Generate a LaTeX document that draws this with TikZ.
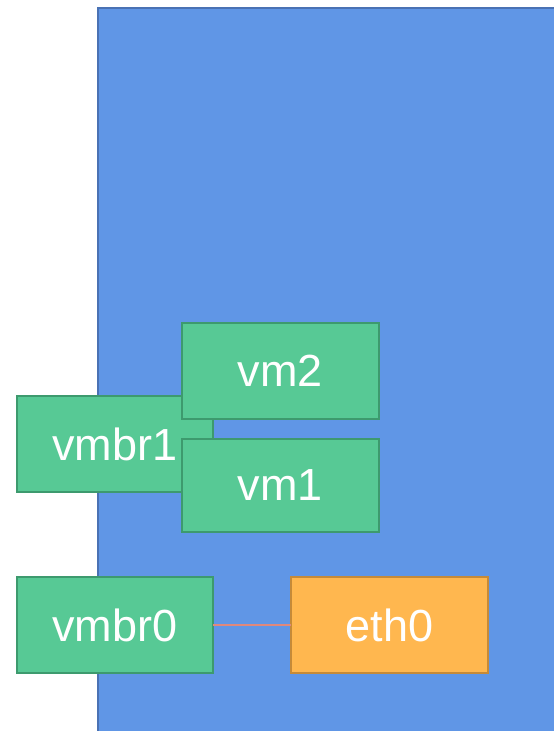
\documentclass[tikz,border=0pt]{standalone}
\usepackage{fontspec}
\setmainfont{Liberation Sans}
\definecolor{bgblue}{HTML}{6096E6}
\definecolor{bgborder}{HTML}{4A72B4}
\definecolor{vmgreen}{HTML}{57C995}
\definecolor{vmborder}{HTML}{3D9A6E}
\definecolor{ethorange}{HTML}{FFB74F}
\definecolor{ethborder}{HTML}{C68A38}
\definecolor{linkcol}{HTML}{E0887C}
\tikzset{
  box/.style={draw, line width=2pt, inner sep=0pt, outer sep=0pt,
    minimum width=197pt, minimum height=96pt, text=white,
    font=\fontsize{45}{52}\selectfont},
  greenbox/.style={box, fill=vmgreen, draw=vmborder},
  orangebox/.style={box, fill=ethorange, draw=ethborder},
}
\begin{document}
\begin{tikzpicture}[x=1pt,y=-1pt]
\useasboundingbox (0,0) rectangle (554,731);
\begin{scope}
\clip (0,0) rectangle (554,731);
\draw[fill=bgblue, draw=bgborder, line width=2pt] (98,8) rectangle (620,800);
\end{scope}
\node[greenbox, minimum width=196pt] (vmbr1) at (115,444) {vmbr1};
\node[greenbox] (vm2) at (280.5,371) {vm2};
\node[greenbox, minimum height=93pt] (vm1) at (280.5,485.5) {vm1};
\node[greenbox, minimum width=196pt] (vmbr0) at (115,625) {vmbr0};
\node[orangebox] (eth0) at (389.5,625) {eth0};
\draw[linkcol, line width=1.5pt] (vmbr0) -- (eth0);
\end{tikzpicture}
\end{document}
